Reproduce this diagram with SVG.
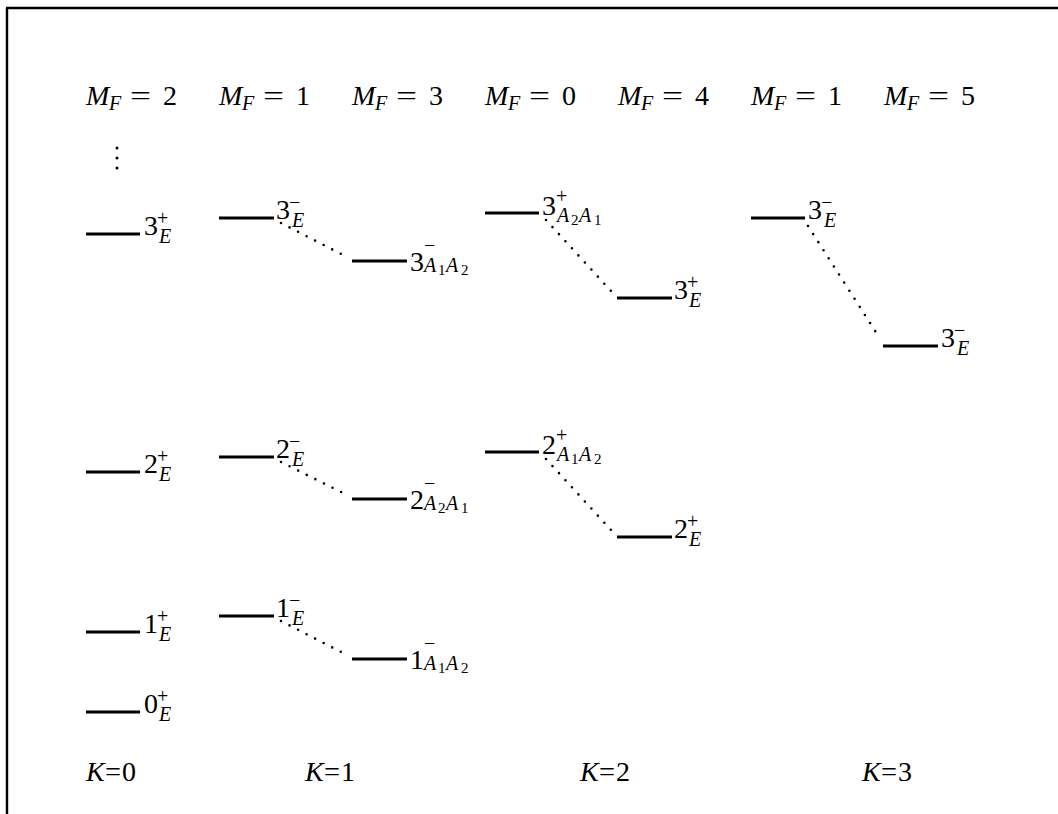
<svg xmlns="http://www.w3.org/2000/svg" width="1058" height="814" viewBox="0 0 1058 814">
<style>
.d{font-size:28px}
.s{font-size:20px}
.ss{font-size:15px}
.it{font-style:italic}
.lv{stroke:#000;stroke-width:3;fill:none}
.dot{stroke:#000;stroke-width:2.6;stroke-linecap:round;stroke-dasharray:0 9.6;fill:none}
.fr{stroke:#000;stroke-width:2.4;fill:none}
</style>
<g id="frame"><path class="fr" d="M6 8H1058M7 8V814"/></g>
<g font-family="'Liberation Serif', 'DejaVu Serif', serif" fill="#000">
<g id="mf-labels">
<text class="d"><tspan class="it" x="86" y="105">M</tspan><tspan class="s it" x="109" y="110">F</tspan><tspan x="130" y="105" textLength="21" lengthAdjust="spacingAndGlyphs">=</tspan><tspan x="163" y="105">2</tspan></text>
<text class="d"><tspan class="it" x="219" y="105">M</tspan><tspan class="s it" x="242" y="110">F</tspan><tspan x="263" y="105" textLength="21" lengthAdjust="spacingAndGlyphs">=</tspan><tspan x="296" y="105">1</tspan></text>
<text class="d"><tspan class="it" x="352" y="105">M</tspan><tspan class="s it" x="375" y="110">F</tspan><tspan x="396" y="105" textLength="21" lengthAdjust="spacingAndGlyphs">=</tspan><tspan x="429" y="105">3</tspan></text>
<text class="d"><tspan class="it" x="485" y="105">M</tspan><tspan class="s it" x="508" y="110">F</tspan><tspan x="529" y="105" textLength="21" lengthAdjust="spacingAndGlyphs">=</tspan><tspan x="562" y="105">0</tspan></text>
<text class="d"><tspan class="it" x="618" y="105">M</tspan><tspan class="s it" x="641" y="110">F</tspan><tspan x="662" y="105" textLength="21" lengthAdjust="spacingAndGlyphs">=</tspan><tspan x="695" y="105">4</tspan></text>
<text class="d"><tspan class="it" x="751" y="105">M</tspan><tspan class="s it" x="774" y="110">F</tspan><tspan x="795" y="105" textLength="21" lengthAdjust="spacingAndGlyphs">=</tspan><tspan x="828" y="105">1</tspan></text>
<text class="d"><tspan class="it" x="884" y="105">M</tspan><tspan class="s it" x="907" y="110">F</tspan><tspan x="928" y="105" textLength="21" lengthAdjust="spacingAndGlyphs">=</tspan><tspan x="961" y="105">5</tspan></text>
</g>
<g id="vdots"><circle cx="117" cy="148" r="1.5"/><circle cx="117" cy="158" r="1.5"/><circle cx="117" cy="168" r="1.5"/></g>
<g id="k0">
<path class="lv" d="M86 234H140M86 472H140M86 632H140M86 712H140"/>
<text class="d"><tspan x="144" y="235">3</tspan><tspan class="s" x="157" y="225">+</tspan><tspan class="s it" x="159" y="243">E</tspan></text>
<text class="d"><tspan x="144" y="473">2</tspan><tspan class="s" x="157" y="463">+</tspan><tspan class="s it" x="159" y="481">E</tspan></text>
<text class="d"><tspan x="144" y="633">1</tspan><tspan class="s" x="157" y="623">+</tspan><tspan class="s it" x="159" y="641">E</tspan></text>
<text class="d"><tspan x="144" y="713">0</tspan><tspan class="s" x="157" y="703">+</tspan><tspan class="s it" x="159" y="721">E</tspan></text>
</g>
<g id="k1-mf1">
<path class="lv" d="M219 218H274M219 457H274M219 616H274"/>
<text class="d"><tspan x="276" y="219">3</tspan><tspan class="s" x="289" y="209">−</tspan><tspan class="s it" x="292" y="227">E</tspan></text>
<text class="d"><tspan x="276" y="458">2</tspan><tspan class="s" x="289" y="448">−</tspan><tspan class="s it" x="292" y="466">E</tspan></text>
<text class="d"><tspan x="276" y="617">1</tspan><tspan class="s" x="289" y="607">−</tspan><tspan class="s it" x="292" y="625">E</tspan></text>
</g>
<g id="k1-mf3">
<path class="lv" d="M352 261H407M352 499H407M352 659H407"/>
<text class="d"><tspan x="410" y="271">3</tspan><tspan class="s" x="424" y="252">−</tspan><tspan class="s it" x="424" y="272">A</tspan><tspan class="ss" x="438" y="275">1</tspan><tspan class="s it" x="446" y="272">A</tspan><tspan class="ss" x="461" y="275">2</tspan></text>
<text class="d"><tspan x="410" y="509">2</tspan><tspan class="s" x="424" y="490">−</tspan><tspan class="s it" x="424" y="510">A</tspan><tspan class="ss" x="438" y="513">2</tspan><tspan class="s it" x="446" y="510">A</tspan><tspan class="ss" x="461" y="513">1</tspan></text>
<text class="d"><tspan x="410" y="669">1</tspan><tspan class="s" x="424" y="650">−</tspan><tspan class="s it" x="424" y="670">A</tspan><tspan class="ss" x="438" y="673">1</tspan><tspan class="s it" x="446" y="670">A</tspan><tspan class="ss" x="461" y="673">2</tspan></text>
</g>
<g id="k2-mf0">
<path class="lv" d="M485 213H539M485 452H539"/>
<text class="d"><tspan x="542" y="215">3</tspan><tspan class="s" x="556" y="203">+</tspan><tspan class="s it" x="557" y="222">A</tspan><tspan class="ss" x="571" y="225">2</tspan><tspan class="s it" x="579" y="222">A</tspan><tspan class="ss" x="594" y="225">1</tspan></text>
<text class="d"><tspan x="542" y="454">2</tspan><tspan class="s" x="556" y="442">+</tspan><tspan class="s it" x="557" y="461">A</tspan><tspan class="ss" x="571" y="464">1</tspan><tspan class="s it" x="579" y="461">A</tspan><tspan class="ss" x="594" y="464">2</tspan></text>
</g>
<g id="k2-mf4">
<path class="lv" d="M617 298H672M617 537H672"/>
<text class="d"><tspan x="674" y="299">3</tspan><tspan class="s" x="687" y="289">+</tspan><tspan class="s it" x="689" y="307">E</tspan></text>
<text class="d"><tspan x="674" y="538">2</tspan><tspan class="s" x="687" y="528">+</tspan><tspan class="s it" x="689" y="546">E</tspan></text>
</g>
<g id="k3-mf1">
<path class="lv" d="M751 218H805"/>
<text class="d"><tspan x="808" y="219">3</tspan><tspan class="s" x="821" y="209">−</tspan><tspan class="s it" x="824" y="227">E</tspan></text>
</g>
<g id="k3-mf5">
<path class="lv" d="M883 346H938"/>
<text class="d"><tspan x="941" y="347">3</tspan><tspan class="s" x="954" y="337">−</tspan><tspan class="s it" x="957" y="355">E</tspan></text>
</g>
<g id="k-labels">
<text class="d"><tspan class="it" x="86" y="781">K</tspan><tspan x="105" y="781" textLength="16" lengthAdjust="spacingAndGlyphs">=</tspan><tspan x="122" y="781">0</tspan></text>
<text class="d"><tspan class="it" x="305" y="781">K</tspan><tspan x="324" y="781" textLength="16" lengthAdjust="spacingAndGlyphs">=</tspan><tspan x="341" y="781">1</tspan></text>
<text class="d"><tspan class="it" x="580" y="781">K</tspan><tspan x="599" y="781" textLength="16" lengthAdjust="spacingAndGlyphs">=</tspan><tspan x="616" y="781">2</tspan></text>
<text class="d"><tspan class="it" x="862" y="781">K</tspan><tspan x="881" y="781" textLength="16" lengthAdjust="spacingAndGlyphs">=</tspan><tspan x="898" y="781">3</tspan></text>
</g>
</g>
<g id="connectors">
<path class="dot" d="M281 223L345 256"/>
<path class="dot" d="M281 462L345 494"/>
<path class="dot" d="M281 621L345 654"/>
<path class="dot" d="M546 220L611 291"/>
<path class="dot" d="M546 459L611 530"/>
<path class="dot" d="M808 226L879 337"/>
</g>
</svg>
